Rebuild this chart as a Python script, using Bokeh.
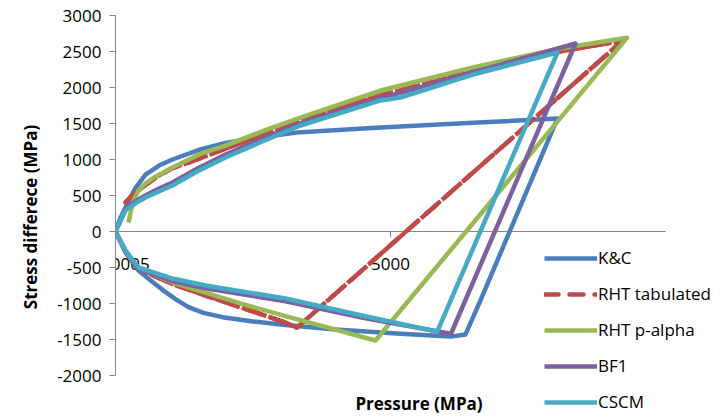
import math

from bokeh.plotting import figure
from bokeh.models import Legend, LegendItem, FixedTicker, Title
from bokeh.core.properties import value
from bokeh.embed import file_html
from bokeh.resources import INLINE

# Loading / unloading paths: pressure (MPa) vs stress difference (MPa)
kc_pressure = [0, 90, 182, 360, 545, 800, 1036, 1545, 2000, 2450, 3363, 4818, 6500, 8036,
               6636, 6364, 6091, 5182, 4000, 3091, 2500, 1945, 1600, 1327, 1090, 855,
               640, 418, 182, 0]
kc_stress = [0, 190, 333, 600, 790, 920, 1000, 1140, 1230, 1290, 1380, 1445, 1510, 1570,
             -958, -1430, -1460, -1420, -1360, -1300, -1250, -1190, -1130, -1050, -940,
             -810, -680, -542, -280, 0]

rht_tab_pressure = [182, 300, 500, 750, 1036, 1327, 2000, 2700, 3363, 4818, 6500, 8000,
                    9220, 3300, 3091, 2300, 1636, 1036, 418, 182, 0]
rht_tab_stress = [403, 500, 620, 760, 880, 958, 1150, 1350, 1542, 1889, 2220, 2490,
                  2650, -1335, -1264, -1060, -889, -730, -520, -270, 0]

rht_pa_pressure = [236, 320, 418, 550, 700, 1036, 1545, 2000, 2700, 3363, 4818, 6500,
                   8000, 9300, 4727, 3091, 2300, 1636, 1036, 418, 182, 0]
rht_pa_stress = [125, 420, 569, 670, 750, 889, 1080, 1194, 1400, 1583, 1958, 2280,
                 2530, 2690, -1514, -1175, -1005, -850, -708, -510, -260, 0]

bf1_pressure = [0, 182, 360, 545, 800, 1036, 1500, 2000, 2700, 3363, 4818, 6500, 8364,
                6100, 4500, 3091, 1636, 1036, 418, 182, 0]
bf1_stress = [0, 310, 420, 500, 600, 680, 880, 1070, 1300, 1500, 1850, 2210, 2611,
              -1420, -1200, -970, -790, -690, -520, -290, 0]

cscm_pressure = [0, 182, 360, 545, 800, 1036, 1500, 2000, 2700, 3363, 4818, 5182, 6500,
                 8036, 5850, 4500, 3091, 1636, 1036, 418, 182, 0]
cscm_stress = [0, 292, 390, 472, 560, 639, 840, 1028, 1260, 1472, 1820, 1861, 2180,
               2486, -1390, -1170, -931, -750, -653, -500, -270, 0]

series_names = ["K&C", "RHT tabulated", "RHT p-alpha", "BF1", "CSCM"]
series_colors = ["#4A7EBB", "#BE4B48", "#98B954", "#7D60A0", "#46AAC5"]

x_ticks = [0, 5000]
x_tick_labels = ["-0.00005", "5000"]
x_axis_end = 10000
y_ticks = [-2000, -1500, -1000, -500, 0, 500, 1000, 1500, 2000, 2500, 3000]

FONT = "Open Sans"
AXIS_GREY = "#868686"

# page geometry (px): plot area reaches the right and bottom edges so the
# legend, which hangs below the value axis, is not clipped
W, H = 722, 418
LEFT, TOP = 115, 15
X_END_PX = 665          # where x = 10000 sits
Y_MIN_PX = 375          # where y = -2000 sits
x_span = x_axis_end * (W - LEFT) / (X_END_PX - LEFT)
y_scale = (y_ticks[-1] - y_ticks[0]) / (Y_MIN_PX - TOP)
y_start = y_ticks[0] - (H - Y_MIN_PX) * y_scale

p = figure(width=W, height=H, x_range=(0, x_span), y_range=(y_start, y_ticks[-1]),
           min_border_left=LEFT, min_border_right=0, min_border_top=TOP,
           min_border_bottom=0, toolbar_location=None, output_backend="svg")
p.outline_line_color = None
p.xgrid.visible = False
p.ygrid.visible = False
p.xaxis.visible = False

# vertical axis on the left
yax = p.yaxis[0]
yax.ticker = FixedTicker(ticks=y_ticks)
yax.major_label_overrides = {t: str(t) for t in y_ticks}
yax.bounds = (y_ticks[0], y_ticks[-1])
yax.axis_line_color = AXIS_GREY
yax.major_tick_line_color = AXIS_GREY
yax.major_tick_out = 6
yax.major_tick_in = 0
yax.minor_tick_line_color = None
yax.major_label_text_font = FONT
yax.major_label_text_font_size = "17px"
yax.major_label_text_color = "#000000"
yax.major_label_standoff = 8

ytitle = Title(text="Stress differece (MPa)", align="center", offset=22,
               text_font=FONT, text_font_size="17px", text_font_style="bold",
               text_color="#000000", standoff=26)
p.add_layout(ytitle, "left")

# horizontal axis runs through y = 0
p.segment(x0=[0], y0=[0], x1=[x_axis_end], y1=[0], line_color=AXIS_GREY, line_width=1)
p.ray(x=x_ticks, y=[0] * len(x_ticks), length=6, length_units="screen",
      angle=-math.pi / 2, line_color=AXIS_GREY, line_width=1)
p.text(x=x_ticks, y=[0] * len(x_ticks), text=x_tick_labels, text_align="center",
       text_baseline="top", y_offset=26, text_font=value(FONT),
       text_font_size="17px", text_color="#000000")
p.text(x=[x_span / 2], y=[y_start], text=["Pressure (MPa)"], text_align="center",
       text_baseline="middle", y_offset=-15, text_font=value(FONT),
       text_font_size="17px", text_font_style="bold", text_color="#000000")

paths = [(kc_pressure, kc_stress), (rht_tab_pressure, rht_tab_stress),
         (rht_pa_pressure, rht_pa_stress), (bf1_pressure, bf1_stress),
         (cscm_pressure, cscm_stress)]

items = []
for name, color, (xs, ys) in zip(series_names, series_colors, paths):
    if name == "RHT tabulated":
        # long-dash copy underneath supplies the legend sample
        key = p.line(xs, ys, line_color=color, line_width=4.5, line_dash="14 11",
                     line_cap="round")
        p.line(xs, ys, line_color=color, line_width=4.5, line_dash="12 2",
               line_join="round")
    else:
        key = p.line(xs, ys, line_color=color, line_width=4.5, line_join="round")
    items.append(LegendItem(label=name, renderers=[key]))

legend = Legend(items=items, location=(429, 5), orientation="vertical",
                label_text_font=FONT, label_text_font_size="17px",
                label_text_color="#000000", glyph_width=53, glyph_height=20,
                label_height=20, spacing=13, padding=0, margin=0,
                label_standoff=1, border_line_color=None,
                background_fill_alpha=0)
p.add_layout(legend)

open("out.html", "w").write(file_html(p, INLINE))
